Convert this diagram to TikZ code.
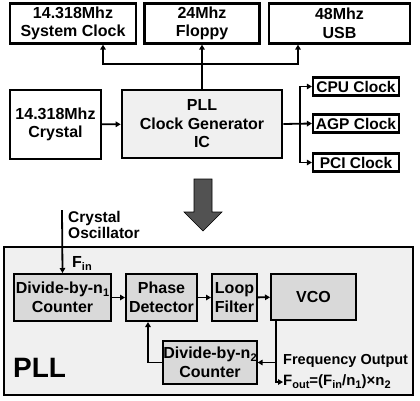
\documentclass[tikz,border=0pt]{standalone}
\usepackage{fontspec}
\setmainfont{Liberation Sans}
\usetikzlibrary{arrows.meta}

\newcommand{\lowsub}[1]{\raisebox{-3pt}{\fontsize{11}{11}\selectfont #1}}

\begin{document}
\begin{tikzpicture}[x=1pt, y=-1pt,
    every node/.style={inner sep=0pt, font=\fontsize{16}{18.5}\selectfont\bfseries},
    box/.style={draw, line width=2.2pt, fill=white, align=center},
    blk/.style={draw, line width=2pt, fill=gray!30, align=center},
    arr/.style={-{Triangle[length=5pt,width=5.5pt]}, line width=1.8pt}]

    \useasboundingbox (0,0) rectangle (420,400);

    \node[box, minimum width=126, minimum height=40] (sys) at (73,23.5) {14.318Mhz\\System Clock};
    \node[box, minimum width=115, minimum height=40] (flp) at (202,23.5) {24Mhz\\Floppy};
    \node[box, minimum width=141, minimum height=40] (usb) at (339.5,23.5) {48Mhz\\USB};

    \node[box, minimum width=91, minimum height=69] (xtal) at (55.5,124.5) {14.318Mhz\\Crystal};
    \node[box, fill=gray!12, line width=2.6pt, minimum width=160, minimum height=68] (pll) at (202,124) {PLL\\Clock Generator\\IC};

    \node[box, minimum width=86, minimum height=18, font=\fontsize{15.5}{16}\selectfont\bfseries] (cpu) at (356,86.5) {CPU Clock};
    \node[box, minimum width=86, minimum height=18, font=\fontsize{15.5}{16}\selectfont\bfseries] (agp) at (356,123.5) {AGP Clock};
    \node[box, minimum width=86, minimum height=18, font=\fontsize{15.5}{16}\selectfont\bfseries] (pci) at (356,162.5) {PCI Clock};

    \draw[arr] (xtal) -- (pll);
    \draw[arr] (pll) -- (flp);
    \coordinate (bus) at (202,64);
    \draw[arr] (bus) -| ([xshift=30]sys.south);
    \draw[arr] (bus) -| ([xshift=-41.5]usb.south);

    \coordinate (br) at ([xshift=17]pll.east);
    \draw[arr] (pll.east) -- (agp.west);
    \draw[arr] (br) |- (cpu.west);
    \draw[arr] (br) |- (pci.west);

    \filldraw[fill=black!68, draw=black, line width=0.6pt] (194,179) -- (212,179) -- (212,212) -- (222,212) -- (203,231) -- (184,212) -- (194,212) -- cycle;

    \draw[line width=2.6pt, fill=gray!12] (4,247) rectangle (413,395);

    \node[blk, minimum width=97, minimum height=47] (div1) at (62.5,297.5) {Divide-by-n\lowsub{1}\\Counter};
    \node[blk, minimum width=71, minimum height=47] (pd) at (161.5,297.5) {Phase\\Detector};
    \node[blk, minimum width=45, minimum height=47] (lf) at (234.5,297.5) {Loop\\Filter};
    \node[blk, minimum width=85, minimum height=46] (vco) at (313.5,297) {VCO};
    \node[blk, minimum width=92, minimum height=43] (div2) at (210,362.5) {Divide-by-n\lowsub{2}\\Counter};

    \coordinate (osc) at (62,210);
    \draw[arr] (osc) -- (div1.north);
    \node[anchor=north west, align=left, font=\fontsize{15.5}{16}\selectfont\bfseries] (osctxt) at (68,211) {Crystal\\Oscillator};
    \node[anchor=west] (fin) at (72,263) {F\lowsub{in}};

    \draw[arr] (div1) -- (pd);
    \draw[arr] (pd) -- (lf);
    \draw[arr] (lf) -- (vco);

    \coordinate (tap) at ([xshift=-37.5]vco.south);
    \node[anchor=west, font=\fontsize{14.5}{16}\selectfont\bfseries] (fq) at (283,361) {Frequency Output};
    \node[anchor=west, font=\fontsize{15}{16}\selectfont\bfseries] (fout) at (283,382) {F\lowsub{out}=(F\lowsub{in}/n\lowsub{1})×n\lowsub{2}};
    \draw[arr] (tap) |- (fout.west);
    \draw[arr] (tap |- div2) -- (div2.east);
    \draw[arr] (div2.west) -| ([xshift=-13.5]pd.south);

    \node[anchor=south west, font=\fontsize{28}{28}\selectfont\bfseries] (plltxt) at (13,378) {PLL};

\end{tikzpicture}
\end{document}
